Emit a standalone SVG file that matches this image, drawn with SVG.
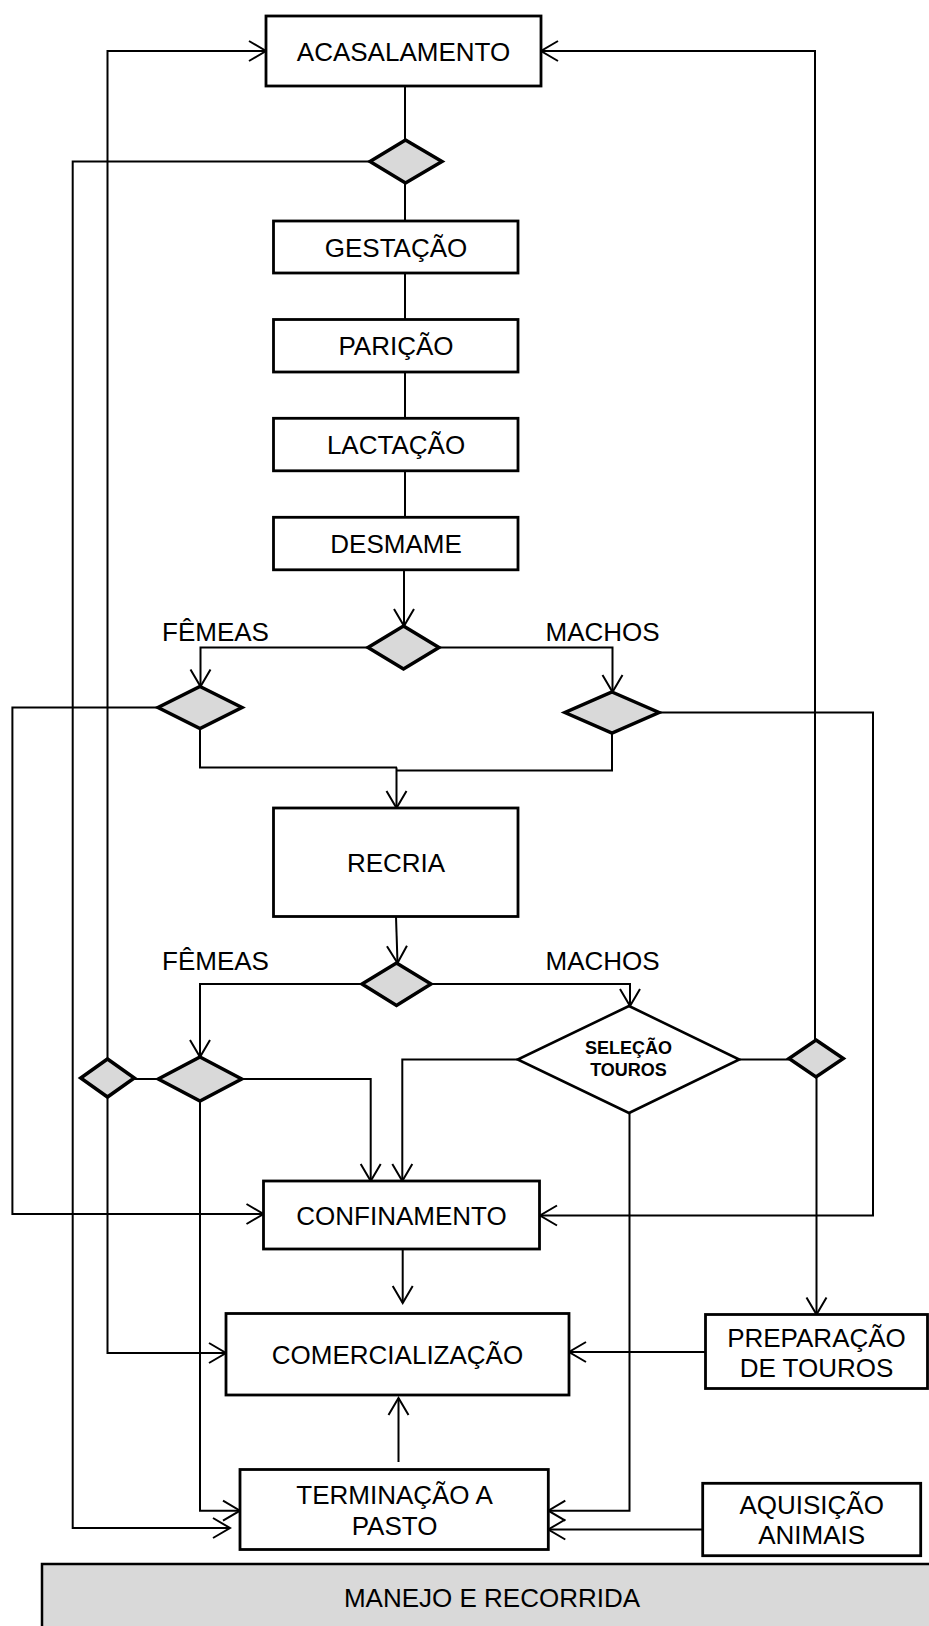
<svg xmlns="http://www.w3.org/2000/svg" width="929" height="1626" viewBox="0 0 929 1626">
  <defs>
    <marker id="arrow" markerUnits="userSpaceOnUse" viewBox="-19 -12 21 24" refX="0" refY="0" markerWidth="21" markerHeight="24" orient="auto">
      <path d="M-17,-10 L0,0 L-17,10" fill="none" stroke="#000" stroke-width="2"/>
    </marker>
    <style>
      .box { fill: #fff; stroke: #000; stroke-width: 2.8; }
      .dec { fill: #d9d9d9; stroke: #000; stroke-width: 3.5; stroke-linejoin: miter; }
      .sel { fill: #fff; stroke: #000; stroke-width: 2.6; }
      .band { fill: #d9d9d9; stroke: #000; stroke-width: 2.5; }
      .lbl { font-family: "Liberation Sans", Arial, sans-serif; font-size: 26px; fill: #000; }
      .mid { text-anchor: middle; }
      .bold { font-family: "Liberation Sans", Arial, sans-serif; font-size: 18px; font-weight: bold; text-anchor: middle; fill: #000; }
      .conn path { fill: none; stroke: #000; stroke-width: 2; }
      .conn path.arr { marker-end: url(#arrow); }
    </style>
  </defs>

  <rect width="929" height="1626" fill="#fff"/>

  <!-- connectors -->
  <g id="connectors" class="conn">
    <!-- main chain -->
    <path d="M405,86 V140"/>
    <path d="M405,183 V221"/>
    <path d="M405,273 V319.5"/>
    <path d="M405,372 V418"/>
    <path d="M405,471 V517"/>
    <path class="arr" d="M404,570 V626"/>
    <!-- weaning split -->
    <path class="arr" d="M368,647.5 H200.5 V686.5"/>
    <path class="arr" d="M439,647.5 H612.5 V692"/>
    <path d="M200,728.5 V767.5 H397"/>
    <path d="M612,733 V770.5 H396.5"/>
    <path class="arr" d="M396.5,767.5 V808"/>
    <!-- rearing split -->
    <path class="arr" d="M396,916.5 L397.5,963"/>
    <path class="arr" d="M362,984 H200 V1057"/>
    <path class="arr" d="M431,984 H630 V1006"/>
    <path d="M134.3,1079 H158.3"/>
    <path d="M739.3,1059.5 H789"/>
    <!-- return loops to mating -->
    <path class="arr" d="M107.5,1059 V51 H266"/>
    <path class="arr" d="M815,1040 V51 H541"/>
    <!-- feedlot feeds -->
    <path class="arr" d="M241.7,1079 H370.7 V1181"/>
    <path class="arr" d="M517.7,1059.5 H402.3 V1181"/>
    <path class="arr" d="M158,707.5 H12.4 V1214 H263.5"/>
    <path class="arr" d="M659,712.5 H873 V1215.5 H540"/>
    <!-- marketing -->
    <path class="arr" d="M402.7,1249 V1303"/>
    <path class="arr" d="M107.5,1097 V1353 H226"/>
    <path class="arr" d="M705.5,1352 H569"/>
    <path class="arr" d="M398.5,1462 V1398"/>
    <path class="arr" d="M816.5,1077 V1314.5"/>
    <!-- pasture finishing -->
    <path class="arr" d="M370,161.5 H72.7 V1528 H230"/>
    <path class="arr" d="M200,1101 V1510.7 H240"/>
    <path class="arr" d="M629.5,1113 V1510.7 H548.3"/>
    <path class="arr" d="M702.7,1529.5 H548.3"/>
  </g>

  <!-- process boxes -->
  <g id="acasalamento">
    <rect class="box" x="266" y="16" width="275" height="70"/>
    <text class="lbl mid" x="403.5" y="61">ACASALAMENTO</text>
  </g>
  <g id="gestacao">
    <rect class="box" x="273.5" y="221" width="244.5" height="52"/>
    <text class="lbl mid" x="396" y="256.5">GESTAÇÃO</text>
  </g>
  <g id="paricao">
    <rect class="box" x="273.5" y="319.5" width="244.5" height="52.5"/>
    <text class="lbl mid" x="396" y="355">PARIÇÃO</text>
  </g>
  <g id="lactacao">
    <rect class="box" x="273.5" y="418.3" width="244.5" height="52.5"/>
    <text class="lbl mid" x="396" y="454">LACTAÇÃO</text>
  </g>
  <g id="desmame">
    <rect class="box" x="273.5" y="517.3" width="244.5" height="52.5"/>
    <text class="lbl mid" x="396" y="553">DESMAME</text>
  </g>
  <g id="recria">
    <rect class="box" x="273.5" y="808" width="244.5" height="108.5"/>
    <text class="lbl mid" x="396" y="871.5">RECRIA</text>
  </g>
  <g id="confinamento">
    <rect class="box" x="263.5" y="1181" width="276" height="68"/>
    <text class="lbl mid" x="401.5" y="1224.5">CONFINAMENTO</text>
  </g>
  <g id="comercializacao">
    <rect class="box" x="226" y="1313.5" width="343" height="81.5"/>
    <text class="lbl mid" x="397.5" y="1363.5">COMERCIALIZAÇÃO</text>
  </g>
  <g id="preparacao-touros">
    <rect class="box" x="705.5" y="1314.5" width="222" height="74"/>
    <text class="lbl mid" x="816.5" y="1347">PREPARAÇÃO</text>
    <text class="lbl mid" x="816.5" y="1377">DE TOUROS</text>
  </g>
  <g id="terminacao-pasto">
    <rect class="box" x="240" y="1469.5" width="308.3" height="80"/>
    <text class="lbl mid" x="394.5" y="1504">TERMINAÇÃO A</text>
    <text class="lbl mid" x="394.5" y="1535">PASTO</text>
  </g>
  <g id="aquisicao-animais">
    <rect class="box" x="702.7" y="1483.3" width="218" height="72.4"/>
    <text class="lbl mid" x="811.7" y="1514">AQUISIÇÃO</text>
    <text class="lbl mid" x="811.7" y="1544">ANIMAIS</text>
  </g>
  <g id="manejo-recorrida">
    <rect class="band" x="42" y="1564" width="900" height="100"/>
    <text class="lbl mid" x="492" y="1607">MANEJO E RECORRIDA</text>
  </g>

  <!-- decision points -->
  <g id="dec-acasalamento">
    <polygon class="dec" points="405.5,140 442,161.5 405.5,183 370,161.5"/>
  </g>
  <g id="dec-desmame">
    <polygon class="dec" points="403.5,626 439,647.5 403.5,669 368,647.5"/>
  </g>
  <g id="dec-femeas-desmame">
    <polygon class="dec" points="200,686.5 242,707.5 200,728.5 158,707.5"/>
    <text class="lbl" x="162" y="641">FÊMEAS</text>
  </g>
  <g id="dec-machos-desmame">
    <polygon class="dec" points="612,692 659,712.5 612,733 565,712.5"/>
    <text class="lbl" x="545.5" y="641">MACHOS</text>
  </g>
  <g id="dec-recria">
    <polygon class="dec" points="396.5,963 431,984 396.5,1005.5 362,984"/>
  </g>
  <g id="dec-femeas-recria">
    <polygon class="dec" points="200,1057 241.7,1079 200,1101 158.3,1079"/>
    <text class="lbl" x="162" y="970">FÊMEAS</text>
  </g>
  <g id="dec-descarte-femeas">
    <polygon class="dec" points="107.5,1059 134.3,1078 107.5,1097 80.7,1078"/>
  </g>
  <g id="selecao-touros">
    <polygon class="sel" points="629,1006 739.3,1059.5 629,1113 517.7,1059.5"/>
    <text class="lbl" x="545.5" y="970">MACHOS</text>
    <text class="bold" x="628.5" y="1054">SELEÇÃO</text>
    <text class="bold" x="628.5" y="1076">TOUROS</text>
  </g>
  <g id="dec-touros">
    <polygon class="dec" points="816,1040 843.3,1058.5 816,1077 789,1058.5"/>
  </g>
</svg>
